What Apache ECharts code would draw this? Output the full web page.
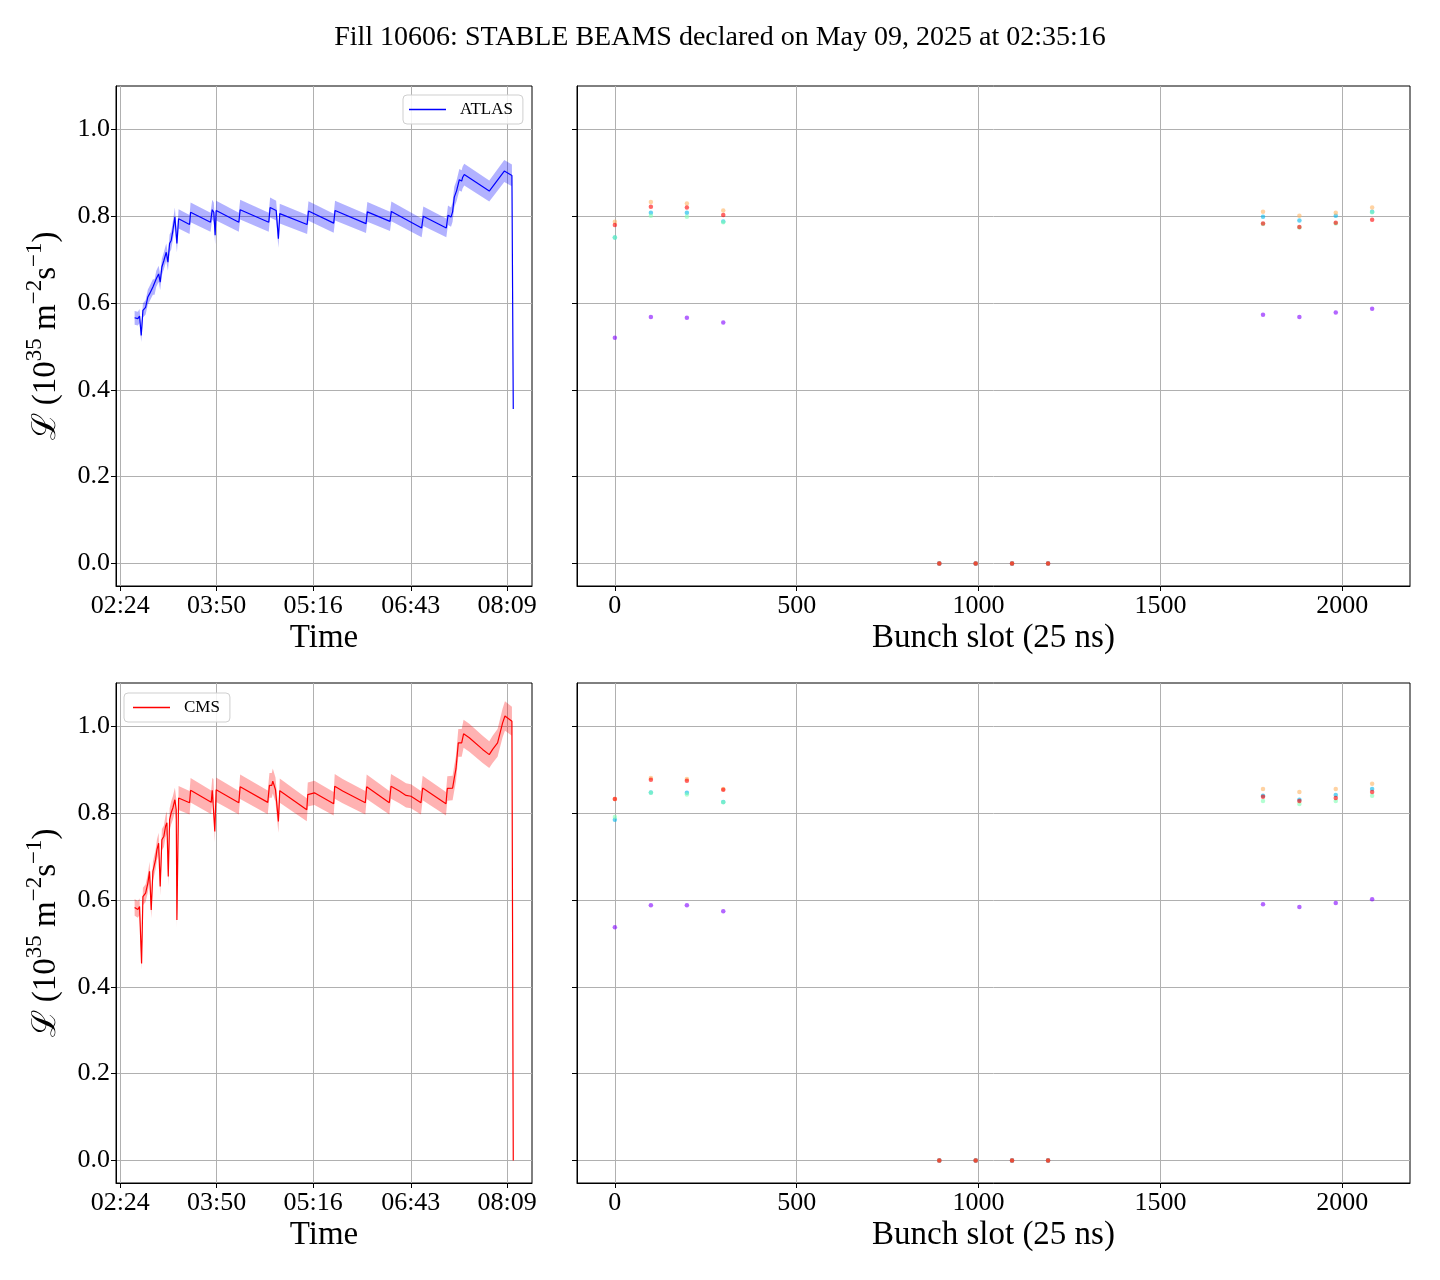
<!DOCTYPE html>
<html><head><meta charset="utf-8">
<script src="https://cdn.jsdelivr.net/npm/echarts@6/dist/echarts.min.js"></script>
<style>html,body{margin:0;padding:0;background:#fff}#chart{width:1440px;height:1280px}</style>
</head><body><div id="chart"></div>
<script>
const titleText = 'Fill 10606: STABLE BEAMS declared on May 09, 2025 at 02:35:16';
// time axis in minutes after midnight
const timeTickValues = [144, 230, 316, 403, 489];
const timeTickLabels = ['02:24', '03:50', '05:16', '06:43', '08:09'];
const lumiTicks = [0, 0.2, 0.4, 0.6, 0.8, 1.0];
const slotTicks = [0, 500, 1000, 1500, 2000];

// [time (min), luminosity]
const atlasLumi = [
 [156.8,0.566],[159.7,0.564],[161.2,0.570],[162.7,0.525],[164.2,0.583],[166.6,0.590],[168.6,0.614],[170.1,0.621],
 [171.6,0.629],[173.1,0.637],[174.6,0.637],[176.1,0.656],[178.2,0.667],[179.6,0.648],[181.1,0.683],[182.9,0.698],
 [185.0,0.717],[186.5,0.694],[188.0,0.737],[189.4,0.744],[190.9,0.767],[192.7,0.798],[194.5,0.737],[196.0,0.794],
 [205.8,0.781],[206.7,0.809],[224.5,0.786],[226.0,0.815],[227.4,0.809],[228.6,0.756],[229.5,0.813],[249.7,0.786],
 [250.9,0.815],[276.4,0.786],[277.6,0.820],[283.0,0.813],[285.0,0.748],[286.2,0.806],[310.6,0.781],[311.8,0.812],
 [334.3,0.784],[335.5,0.813],[363.1,0.783],[364.3,0.810],[384.5,0.788],[385.7,0.811],[412.7,0.773],[414.2,0.800],
 [434.7,0.773],[436.2,0.802],[438.9,0.798],[440.3,0.810],[441.8,0.844],[443.9,0.859],[446.3,0.884],[448.4,0.881],
 [449.2,0.889],[450.7,0.896],[473.0,0.858],[486.4,0.904],[493.2,0.894],[494.4,0.356]
];
const cmsLumi = [
 [156.8,0.583],[159.7,0.578],[161.2,0.585],[163.0,0.454],[164.2,0.608],[166.6,0.616],[168.6,0.639],[170.1,0.666],
 [171.6,0.577],[173.1,0.666],[175.5,0.693],[176.7,0.716],[178.2,0.731],[179.6,0.631],[181.1,0.739],[182.9,0.747],
 [184.4,0.770],[185.6,0.778],[186.8,0.654],[188.0,0.785],[189.4,0.801],[190.9,0.812],[192.7,0.831],[193.9,0.808],
 [194.5,0.554],[196.0,0.835],[205.8,0.824],[206.7,0.853],[225.1,0.825],[226.0,0.853],[227.1,0.851],[228.3,0.758],
 [229.5,0.854],[249.7,0.824],[250.9,0.861],[275.5,0.825],[277.0,0.864],[279.1,0.864],[280.0,0.874],[282.4,0.854],
 [285.0,0.781],[286.2,0.852],[310.3,0.808],[311.2,0.843],[317.1,0.847],[334.3,0.822],[335.2,0.862],[342.3,0.851],
 [362.5,0.824],[363.7,0.861],[383.9,0.824],[385.4,0.862],[392.8,0.851],[398.8,0.841],[403.2,0.839],[412.1,0.824],
 [413.6,0.858],[434.4,0.822],[435.6,0.857],[440.3,0.858],[441.8,0.881],[443.3,0.902],[445.4,0.962],[448.4,0.962],
 [450.1,0.983],[455.2,0.974],[467.1,0.947],[473.0,0.935],[476.0,0.947],[480.4,0.962],[484.9,1.008],[487.0,1.024],
 [493.2,1.012],[494.4,0.000]
];
const atlasBandFrac = 0.028;
const cmsBandFrac = 0.033;

const bunchSlots = [0, 99, 198, 298, 892, 992, 1092, 1191, 1782, 1882, 1982, 2082];
const atlasBunchPurple = [0.520,0.568,0.566,0.555,0,0,0,0,0.573,0.568,0.578,0.587];
const atlasBunchBlue   = [0.751,0.808,0.808,0.788,0,0,0,0,0.799,0.790,0.801,0.810];
const atlasBunchGreen  = [0.751,0.801,0.799,0.786,0,0,0,0,0.782,0.774,0.783,0.809];
const atlasBunchOrange = [0.787,0.833,0.829,0.813,0,0,0,0,0.810,0.801,0.808,0.820];
const atlasBunchRed    = [0.780,0.822,0.820,0.803,0,0,0,0,0.783,0.775,0.785,0.792];
const cmsBunchPurple = [0.537,0.588,0.588,0.574,0,0,0,0,0.590,0.584,0.593,0.602];
const cmsBunchBlue   = [0.785,0.848,0.847,0.826,0,0,0,0,0.840,0.831,0.842,0.856];
const cmsBunchGreen  = [0.791,0.847,0.843,0.825,0,0,0,0,0.828,0.821,0.828,0.840];
const cmsBunchOrange = [0.833,0.881,0.879,0.856,0,0,0,0,0.856,0.849,0.856,0.868];
const cmsBunchRed    = [0.833,0.877,0.875,0.854,0,0,0,0,0.838,0.828,0.835,0.849];
const snapshotColors = ['#8000ff', '#00b5eb', '#80ffb4', '#ffb462', '#ff0000'];

const FONT = "'Liberation Serif', 'Times New Roman', 'DejaVu Serif', serif";
const chart = echarts.init(document.getElementById('chart'));

const grids = [
  {left: 116, top: 86, width: 416, height: 500},
  {left: 577, top: 86, width: 833, height: 500},
  {left: 116, top: 683, width: 416, height: 500},
  {left: 577, top: 683, width: 833, height: 500}
].map(g => Object.assign(g, {show: true, borderColor: '#000', borderWidth: 1, backgroundColor: 'transparent'}));

function xAxisCfg(idx, isTime) {
  const ticks = isTime ? timeTickValues : slotTicks;
  return {
    type: 'value', gridIndex: idx,
    min: isTime ? 140.2 : -104.1, max: isTime ? 511.1 : 2186.1,
    axisLine: {show: true, onZero: false, lineStyle: {color: '#000', width: 1}},
    axisTick: {show: true, customValues: ticks, length: 5, lineStyle: {color: '#000', width: 1}},
    axisLabel: {show: true, customValues: ticks, margin: 7, fontSize: 26, fontFamily: FONT, color: '#000',
      formatter: v => isTime ? timeTickLabels[timeTickValues.indexOf(v)] : String(v)},
    splitLine: {show: true, lineStyle: {color: '#b0b0b0', width: 1}},
    name: isTime ? 'Time' : 'Bunch slot (25 ns)', nameLocation: 'middle', nameGap: 36,
    nameTextStyle: {fontSize: 33, fontFamily: FONT, color: '#000'}
  };
}
const yName = '{n|\u2112 (10}{s|35}{n| m}{s|\u22122}{n|s}{s|\u22121}{n|)}';
function yAxisCfg(idx, showLabels) {
  return {
    type: 'value', gridIndex: idx, min: -0.052, max: 1.1,
    axisLine: {show: true, onZero: false, lineStyle: {color: '#000', width: 1}},
    axisTick: {show: true, customValues: lumiTicks, length: 5, lineStyle: {color: '#000', width: 1}},
    axisLabel: {show: showLabels, customValues: lumiTicks, margin: 6, fontSize: 26, fontFamily: FONT, color: '#000',
      formatter: v => v.toFixed(1)},
    splitLine: {show: true, lineStyle: {color: '#b0b0b0', width: 1}},
    name: showLabels ? yName : '', nameLocation: 'middle', nameRotate: 90, nameGap: 53,
    nameTextStyle: {color: '#000', fontFamily: FONT,
      rich: {
        n: {fontSize: 33, fontFamily: FONT, color: '#000', lineHeight: 40, verticalAlign: 'bottom'},
        s: {fontSize: 23, fontFamily: FONT, color: '#000', lineHeight: 23, verticalAlign: 'top'}
      }}
  };
}

function bandSeries(data, frac, color, idx) {
  return {
    type: 'custom', xAxisIndex: idx, yAxisIndex: idx, silent: true, z: 1,
    data: [data[0]],
    renderItem: (params, api) => {
      const up = data.map(d => api.coord([d[0], d[1] * (1 + frac)]));
      const lo = data.map(d => api.coord([d[0], d[1] * (1 - frac)])).reverse();
      return {type: 'polygon', shape: {points: up.concat(lo)}, style: {fill: color}};
    }
  };
}
function lineSeries(name, data, color, idx) {
  return {
    name, type: 'line', xAxisIndex: idx, yAxisIndex: idx, data, showSymbol: false, symbol: 'none',
    lineStyle: {color, width: 1.2}, itemStyle: {color}, z: 3, animation: false
  };
}
function scatterSeries(values, color, idx) {
  return {
    type: 'scatter', xAxisIndex: idx, yAxisIndex: idx, symbol: 'circle', symbolSize: 4.5,
    data: bunchSlots.map((s, i) => [s, values[i]]),
    itemStyle: {color, opacity: 0.6}, silent: true, z: 2
  };
}
const atlasBunch = [atlasBunchPurple, atlasBunchBlue, atlasBunchGreen, atlasBunchOrange, atlasBunchRed];
const cmsBunch = [cmsBunchPurple, cmsBunchBlue, cmsBunchGreen, cmsBunchOrange, cmsBunchRed];

const legendCommon = {
  orient: 'horizontal', itemWidth: 37, itemHeight: 1.6, icon: 'rect',
  borderColor: '#cfcfcf', borderWidth: 1, borderRadius: 4, backgroundColor: 'rgba(255,255,255,0.85)',
  textStyle: {fontFamily: FONT, fontSize: 17, color: '#000', padding: [0, 0, 0, 9]},
  selectedMode: false
};

chart.setOption({
  animation: false,
  backgroundColor: '#fff',
  title: {text: titleText, left: 'center', top: 19,
    textStyle: {fontSize: 28, fontFamily: FONT, fontWeight: 'normal', color: '#000'}},
  legend: [
    Object.assign({}, legendCommon, {data: ['ATLAS'], left: 403, top: 95, padding: [6, 10, 6, 6]}),
    Object.assign({}, legendCommon, {data: ['CMS'], left: 124, top: 693, padding: [6, 10, 6, 9]})
  ],
  grid: grids,
  xAxis: [xAxisCfg(0, true), xAxisCfg(1, false), xAxisCfg(2, true), xAxisCfg(3, false)],
  yAxis: [yAxisCfg(0, true), yAxisCfg(1, false), yAxisCfg(2, true), yAxisCfg(3, false)],
  series: [
    bandSeries(atlasLumi, atlasBandFrac, 'rgba(0,0,255,0.3)', 0),
    lineSeries('ATLAS', atlasLumi, '#0000ff', 0),
    ...atlasBunch.map((v, i) => scatterSeries(v, snapshotColors[i], 1)),
    bandSeries(cmsLumi, cmsBandFrac, 'rgba(255,0,0,0.3)', 2),
    lineSeries('CMS', cmsLumi, '#ff0000', 2),
    ...cmsBunch.map((v, i) => scatterSeries(v, snapshotColors[i], 3))
  ]
});
</script></body></html>
